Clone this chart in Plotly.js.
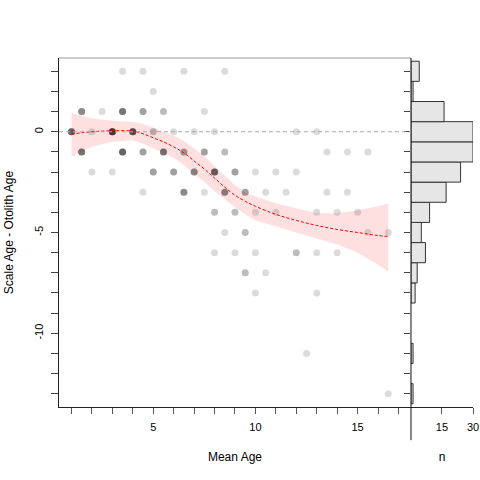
<!DOCTYPE html>
<html>
<head>
<meta charset="utf-8">
<script src="https://cdn.plot.ly/plotly-3.0.1.min.js"></script>
<style>
  html, body { margin: 0; padding: 0; background: #fff; }
  #chart { width: 480px; height: 480px; }
</style>
</head>
<body>
<div id="chart"></div>
<script>
/* fish ages: one entry per distinct (mean age, difference), nFish = how many fish share it */
var meanAge = [3.5, 4.5, 6.5, 8.5,
  5,
  1.5, 2.5, 3.5, 4.5, 5.5, 7.5,
  1, 2, 3, 4, 5, 6, 7, 8, 12, 13,
  1.5, 3.5, 4.5, 5.5, 6.5, 7.5, 8.5, 13.5, 14.5, 15.5,
  2, 3, 5, 6, 7, 8, 9, 10, 11, 12,
  4.5, 6.5, 7.5, 8.5, 9.5, 10.5, 11.5, 13.5, 14.5,
  8, 9, 10, 11, 13, 14, 15,
  8.5, 9.5, 15.5, 16.5,
  8, 9, 10, 12, 13, 14,
  9.5, 10.5,
  10, 13,
  12.5,
  16.5];
var ageDiff = [3, 3, 3, 3,
  2,
  1, 1, 1, 1, 1, 1,
  0, 0, 0, 0, 0, 0, 0, 0, 0, 0,
  -1, -1, -1, -1, -1, -1, -1, -1, -1, -1,
  -2, -2, -2, -2, -2, -2, -2, -2, -2, -2,
  -3, -3, -3, -3, -3, -3, -3, -3, -3,
  -4, -4, -4, -4, -4, -4, -4,
  -5, -5, -5, -5,
  -6, -6, -6, -6, -6, -6,
  -7, -7,
  -8, -8,
  -11,
  -13];
var nFish = [1, 1, 1, 1,
  1,
  4, 1, 5, 3, 2, 1,
  6, 1, 9, 7, 2, 1, 1, 1, 1, 1,
  5, 6, 3, 5, 3, 3, 2, 1, 1, 1,
  1, 1, 3, 3, 4, 6, 3, 1, 1, 1,
  1, 4, 1, 4, 3, 1, 1, 1, 1,
  2, 2, 1, 1, 1, 1, 1,
  1, 2, 1, 1,
  1, 1, 1, 2, 1, 1,
  2, 1,
  1, 1,
  1,
  1];

/* loess smooth and its confidence band */
var fitX = [1, 1.5, 2, 3, 4, 4.5, 5, 5.5, 6, 6.5, 7, 7.5, 8, 8.5, 9, 9.5, 10, 11, 12, 13, 14, 15, 16, 16.5];
var fitY = [-0.12, -0.05, 0, 0.05, 0.03, -0.1, -0.3, -0.5, -0.75, -1.05, -1.45, -1.85, -2.3, -2.75, -3.15, -3.45, -3.7, -4.1, -4.4, -4.65, -4.85, -5.0, -5.15, -5.2];
var fitUpper = [0.92, 0.78, 0.67, 0.55, 0.48, 0.38, 0.22, 0, -0.2, -0.45, -0.82, -1.2, -1.7, -2.2, -2.65, -3.0, -3.2, -3.55, -3.8, -4.05, -4.05, -3.9, -3.7, -3.55];
var fitLower = [-1.25, -1, -0.75, -0.5, -0.42, -0.6, -0.82, -1.05, -1.3, -1.65, -2.1, -2.5, -2.95, -3.35, -3.75, -4.1, -4.4, -4.7, -5.0, -5.3, -5.6, -6.0, -6.6, -6.95];

var xTickVals = [1, 2, 3, 4, 5, 6, 7, 8, 9, 10, 11, 12, 13, 14, 15, 16, 17];
var xTickText = ['', '', '', '', '5', '', '', '', '', '10', '', '', '', '', '15', '', ''];
var yTickVals = [-13, -12, -11, -10, -9, -8, -7, -6, -5, -4, -3, -2, -1, 0, 1, 2, 3];
var yTickText = ['', '', '', '-10', '', '', '', '', '-5', '', '', '', '', '0', '', '', ''];
var nTickVals = [15, 30];

/* one point per fish */
var allX = [], allY = [];
for (var i = 0; i < meanAge.length; i++) {
  for (var k = 0; k < nFish[i]; k++) {
    allX.push(meanAge[i]);
    allY.push(ageDiff[i]);
  }
}

var split = 0.8502;
var font = 'Liberation Sans, Arial, Helvetica, sans-serif';

var band = {
  x: fitX.concat(fitX.slice().reverse()),
  y: fitUpper.concat(fitLower.slice().reverse()),
  type: 'scatter',
  mode: 'lines',
  fill: 'toself',
  fillcolor: 'rgba(255,0,0,0.12)',
  line: { width: 0 },
  hoverinfo: 'skip'
};

var points = {
  x: allX,
  y: allY,
  type: 'scatter',
  mode: 'markers',
  marker: { color: '#000', opacity: 0.14, size: 7, line: { width: 0 } }
};

var smooth = {
  x: fitX,
  y: fitY,
  type: 'scatter',
  mode: 'lines',
  line: { color: '#ff0000', width: 1, dash: '3px,2px', shape: 'spline' }
};

var hist = {
  y: allY,
  type: 'histogram',
  orientation: 'h',
  xaxis: 'x2',
  yaxis: 'y2',
  ybins: { start: -13.5, end: 3.5, size: 1 },
  marker: { color: '#e6e6e6', line: { color: '#333', width: 1 } }
};

var layout = {
  width: 480,
  height: 480,
  margin: { l: 59, r: 7, t: 58, b: 73 },
  showlegend: false,
  paper_bgcolor: '#fff',
  plot_bgcolor: '#fff',
  bargap: 0,
  font: { family: font, size: 11, color: '#000' },
  xaxis: {
    domain: [0, split],
    range: [0.39, 17.61],
    tickvals: xTickVals,
    ticktext: xTickText,
    ticks: 'outside',
    ticklen: 6,
    tickcolor: '#555',
    ticklabelstandoff: 4,
    showline: true,
    linecolor: '#222',
    showgrid: false,
    zeroline: false,
    title: { text: 'Mean Age', font: { size: 12 }, standoff: 20 }
  },
  yaxis: {
    range: [-13.66, 3.66],
    tickvals: yTickVals,
    ticktext: yTickText,
    ticks: 'outside',
    ticklen: 7,
    tickcolor: '#444',
    tickangle: -90,
    ticklabelstandoff: 4,
    showline: true,
    linecolor: '#222',
    showgrid: false,
    zeroline: false,
    title: { text: 'Scale Age - Otolith Age', font: { size: 12 }, standoff: 16 }
  },
  xaxis2: {
    domain: [split, 1],
    anchor: 'y2',
    range: [0, 30],
    tickvals: nTickVals,
    ticks: 'outside',
    ticklen: 6,
    tickcolor: '#555',
    ticklabelstandoff: 4,
    showline: true,
    linecolor: '#222',
    showgrid: false,
    zeroline: false,
    title: { text: 'n', font: { size: 12 }, standoff: 20 }
  },
  yaxis2: {
    matches: 'y',
    anchor: 'x2',
    tickvals: yTickVals,
    ticks: 'outside',
    ticklen: 6,
    tickcolor: '#444',
    showticklabels: false,
    showline: false,
    showgrid: false,
    zeroline: false
  },
  shapes: [
    { type: 'line', xref: 'paper', yref: 'paper', x0: 0, x1: split, y0: 1, y1: 1,
      line: { color: '#999', width: 1 } },
    { type: 'line', xref: 'paper', yref: 'paper', x0: split, x1: split, y0: -0.095, y1: 1,
      line: { color: '#111', width: 1 } },
    { type: 'line', xref: 'paper', yref: 'y', x0: 0, x1: split, y0: 0, y1: 0,
      line: { color: '#aaa', width: 1, dash: '4px,3px' } }
  ]
};

var config = { displayModeBar: false, staticPlot: true };

Plotly.newPlot('chart', [band, points, smooth, hist], layout, config);
</script>
</body>
</html>
